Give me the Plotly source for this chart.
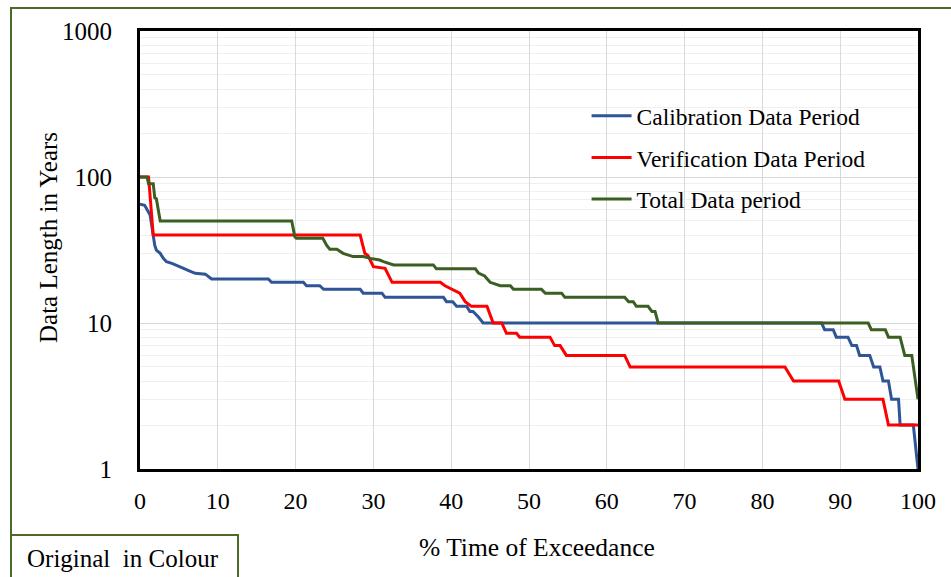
import plotly.graph_objects as go

# ---- data ----
calib_x = [0, 0.6, 1.3, 1.9, 2.1, 2.6, 3.0, 3.4, 4.1, 4.9, 5.6, 6.4, 7.1, 8.4, 9.2, 16.5, 16.9, 21.0, 21.4, 23.1,
           23.6, 28.3, 28.7, 31.1, 31.5, 39.0, 39.4, 40.2, 40.7, 42.0, 42.4, 42.8, 43.5, 44.1, 87.6, 88.0, 89.1, 89.5,
           91.0, 91.5, 92.1, 92.5, 93.8, 94.3, 95.1, 95.5, 96.2, 96.6, 97.5, 97.7, 99.4, 100]
calib_y = [65, 64, 55, 34, 31.6, 30, 27.7, 26.3, 25.6, 24.7, 23.7, 22.7, 21.9, 21.6, 20, 20, 19, 19, 18, 18,
           17, 17, 16, 16, 15, 15, 14, 14, 13, 13, 12, 12, 11, 10, 10, 9, 9, 8,
           8, 7, 7, 6, 6, 5, 5, 4, 4, 3, 3, 2, 2, 1]

verif_x = [0, 1.1, 1.7, 28.3, 28.9, 29.3, 30.0, 31.5, 32.4, 38.6, 39.2, 40.1, 41.1, 41.8, 42.6, 44.6, 45.4, 46.5,
           47.1, 48.4, 48.8, 52.7, 53.3, 54.0, 54.8, 62.3, 63.0, 82.9, 84.0, 89.8, 90.6, 95.5, 96.2, 100]
verif_y = [100, 100, 40, 40, 30, 29, 24.3, 23.7, 19, 19, 18, 17, 16, 14, 13, 13, 10, 10,
           8.5, 8.5, 8, 8, 7, 7, 6, 6, 5, 5, 4, 4, 3, 3, 2, 2]

total_x = [0, 0.9, 1.1, 1.7, 1.9, 2.1, 2.6, 19.5, 19.9, 20.1, 23.5, 24.0, 24.4, 25.3, 26.1, 27.4, 28.7, 29.6, 30.8,
           31.3, 32.6, 37.7, 38.1, 43.1, 43.5, 44.3, 45.0, 45.4, 46.3, 47.6, 48.0, 51.6, 52.1, 54.2, 54.6, 62.3, 62.8,
           63.4, 63.8, 65.3, 65.8, 66.2, 66.6, 93.6, 94.0, 95.8, 96.2, 97.7, 98.3, 99.2, 100]
total_y = [100, 100, 90, 90, 72, 71, 50, 50, 39, 38, 38, 34, 32, 32, 30, 28.5, 28.5, 27.7, 27,
           26.3, 25, 25, 23.5, 23.5, 22, 21, 19, 18.7, 18, 18, 17, 17, 16, 16, 15, 15, 14,
           14, 13, 13, 12, 12, 10, 10, 9, 9, 8, 8, 6, 6, 3]

series_names = ["Calibration Data Period", "Verification Data Period", "Total Data period"]
series_colors = ["#2f5597", "#ff0000", "#3b5e23"]

x_ticks = [0, 10, 20, 30, 40, 50, 60, 70, 80, 90, 100]
y_ticks = [1, 10, 100, 1000]

FONT = "Liberation Serif, Times New Roman, serif"
FRAME_GREEN = "#4a6b2a"

fig = go.Figure()
for i, (xs, ys) in enumerate([(calib_x, calib_y), (verif_x, verif_y), (total_x, total_y)]):
    fig.add_trace(go.Scatter(x=xs, y=ys, mode="lines", name=series_names[i],
                             legendgroup=f"g{i}",
                             line=dict(color=series_colors[i], width=3)))

fig.update_layout(
    width=951, height=577, autosize=False,
    margin=dict(l=140, r=33, t=31, b=108),
    paper_bgcolor="white", plot_bgcolor="white",
    font=dict(family=FONT, color="black", size=22),
    showlegend=True,
    legend=dict(x=0.574, y=0.856, xanchor="left", yanchor="top",
                bgcolor="rgba(0,0,0,0)", font=dict(family=FONT, size=23.5, color="black"),
                traceorder="grouped", tracegroupgap=8, itemwidth=40),
)

fig.update_xaxes(range=[0, 100], tickvals=x_ticks, ticktext=[str(v) for v in x_ticks],
                 showgrid=True, gridcolor="#d9d9d9", gridwidth=1,
                 showline=True, linecolor="black", linewidth=3, mirror=True,
                 ticks="", ticklabelstandoff=8, zeroline=False,
                 tickfont=dict(family=FONT, size=24, color="black"))
fig.update_yaxes(type="log", range=[0, 3], tickvals=y_ticks, ticktext=[str(v) for v in y_ticks],
                 showgrid=True, gridcolor="#d9d9d9", gridwidth=1,
                 minor=dict(showgrid=True, gridcolor="#f0f0f0", gridwidth=1, dtick="D1", ticks=""),
                 showline=True, linecolor="black", linewidth=3, mirror=True,
                 ticks="", ticklabelstandoff=20, zeroline=False,
                 tickfont=dict(family=FONT, size=25, color="black"))

# axis titles as annotations
fig.add_annotation(text="Data Length in Years", xref="paper", yref="paper",
                   x=(48 - 140) / 778, y=(469 - 238) / 438, textangle=-90, showarrow=False,
                   xanchor="center", yanchor="middle", font=dict(family=FONT, size=25, color="black"))
fig.add_annotation(text="% Time of Exceedance", xref="paper", yref="paper",
                   x=(537 - 140) / 778, y=(469 - 547) / 438, showarrow=False,
                   xanchor="center", yanchor="middle", font=dict(family=FONT, size=25.5, color="black"))

# outer green frame and "Original in Colour" box
fig.add_shape(type="rect", xref="paper", yref="paper",
              x0=(11 - 140) / 778, x1=(965 - 140) / 778, y0=(469 - 600) / 438, y1=(469 - 8) / 438,
              line=dict(color=FRAME_GREEN, width=2), fillcolor="rgba(0,0,0,0)", layer="below")
fig.add_shape(type="rect", xref="paper", yref="paper",
              x0=(11 - 140) / 778, x1=(238 - 140) / 778, y0=(469 - 600) / 438, y1=(469 - 535) / 438,
              line=dict(color=FRAME_GREEN, width=2), fillcolor="rgba(0,0,0,0)", layer="below")
fig.add_annotation(text="Original  in Colour", xref="paper", yref="paper",
                   x=(123 - 140) / 778, y=(469 - 558) / 438, showarrow=False,
                   xanchor="center", yanchor="middle", font=dict(family=FONT, size=25, color="black"))

fig.write_html("out.html", config={"displayModeBar": False},
               post_script="document.body.style.margin='0';document.body.style.overflow='hidden';")
